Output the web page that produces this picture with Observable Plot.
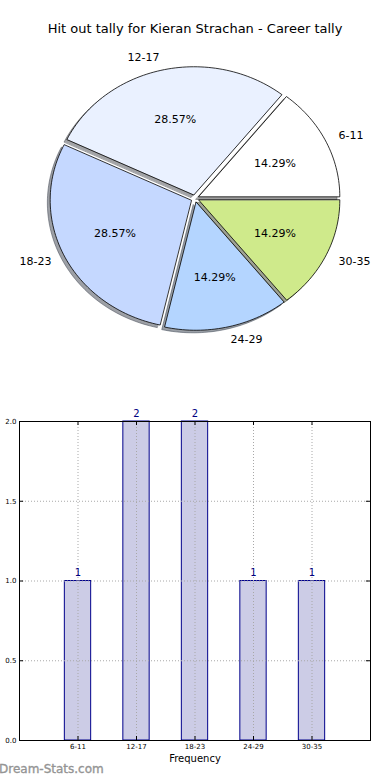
<!DOCTYPE html>
<html><head><meta charset="utf-8">
<script src="https://cdn.jsdelivr.net/npm/d3@7"></script>
<script src="https://cdn.jsdelivr.net/npm/@observablehq/plot@0.6"></script>
<style>
body{margin:0;background:#fff;font-family:"DejaVu Sans",sans-serif;}
#wrap{position:relative;width:390px;height:780px;overflow:hidden;background:#fff;}
#wrap > *{position:absolute;}
#title{left:0;width:390px;top:21px;text-align:center;font-size:13px;color:#000;}
#wm{left:-1px;top:762px;font-size:12px;font-weight:normal;color:#949494;-webkit-text-stroke:0.35px #949494;}
</style></head><body><div id="wrap"><div id="title"></div><div id="wm"></div></div>
<script>
const categories = ["6-11","12-17","18-23","24-29","30-35"];
const counts = [1,2,2,1,1];
const sliceColors = ["#ffffff","#eaf1ff","#c5d8ff","#b4d5ff","#cfea8b"];
const explode = [0.03,0.03,0.03,0.03,0.03];
const yTicks = [0,0.5,1,1.5,2];
const titleText = "Hit out tally for Kieran Strachan - Career tally";
const xLabel = "Frequency";
const watermark = "Dream-Stats.com";

const wrap = document.getElementById("wrap");
document.getElementById("title").textContent = titleText;
document.getElementById("wm").textContent = watermark;

// ---- pie geometry (matplotlib style: start at east, counterclockwise)
const total = d3.sum(counts);
const cum = [0, ...d3.cumsum(counts)];
const slices = categories.map((c, i) => {
  const t1 = 2 * Math.PI * cum[i] / total, t2 = 2 * Math.PI * cum[i + 1] / total;
  const mid = (t1 + t2) / 2;
  const ex = explode[i] * Math.cos(mid), ey = explode[i] * Math.sin(mid);
  return {c, i, t1, t2, mid, ex, ey, frac: counts[i] / total, color: sliceColors[i]};
});
const pts = [], shadowPts = [];
for (const s of slices) {
  const n = Math.ceil((s.t2 - s.t1) / (Math.PI / 120));
  const ring = [[s.ex, s.ey]];
  for (let k = 0; k <= n; k++) {
    const t = s.t1 + (s.t2 - s.t1) * k / n;
    ring.push([s.ex + Math.cos(t), s.ey + Math.sin(t)]);
  }
  const rgb = d3.rgb(s.color);
  const sh = d3.rgb(rgb.r * 0.3, rgb.g * 0.3, rgb.b * 0.3).formatHex();
  for (const [u, v] of ring) {
    pts.push({key: s.c, u, v, color: s.color});
    shadowPts.push({key: s.c, u: u - 0.02, v: v - 0.02, color: sh});
  }
}
const labels = slices.map(s => ({
  text: s.c,
  u: s.ex + 1.1 * Math.cos(s.mid), v: s.ey + 1.1 * Math.sin(s.mid)
}));
const pcts = slices.map(s => ({
  text: d3.format(".2%")(s.frac),
  u: s.ex + 0.6 * Math.cos(s.mid), v: s.ey + 0.6 * Math.sin(s.mid)
}));

const cx = 194.5, cy = 198, rx = 141, ry = 128;
const pie = Plot.plot({
  width: 390, height: 380, margin: 0,
  style: {fontFamily: "DejaVu Sans, sans-serif", background: "transparent", overflow: "visible"},
  x: {domain: [-1, 1], range: [cx - rx, cx + rx], axis: null},
  y: {domain: [-1, 1], range: [cy + ry, cy - ry], axis: null},
  marks: [
    Plot.line(shadowPts, {x: "u", y: "v", z: "key", fill: "color", stroke: "color", fillOpacity: 0.5, strokeOpacity: 0.5, strokeWidth: 1, curve: "linear-closed"}),
    Plot.line(pts, {x: "u", y: "v", z: "key", fill: "color", stroke: "#000", strokeWidth: 0.8, curve: "linear-closed"}),
    Plot.text(labels.filter(d => d.u >= 0), {x: "u", y: "v", text: "text", textAnchor: "start", fontSize: 11, fill: "#000"}),
    Plot.text(labels.filter(d => d.u < 0), {x: "u", y: "v", text: "text", textAnchor: "end", fontSize: 11, fill: "#000"}),
    Plot.text(pcts, {x: "u", y: "v", text: "text", fontSize: 11, fill: "#000"})
  ]
});
pie.style.left = "0px"; pie.style.top = "0px";
wrap.appendChild(pie);

// ---- bar chart
const bars = categories.map((c, i) => ({c, pos: i + 1, n: counts[i]}));
const xTickPos = bars.map(d => d.pos);
const half = 0.225;
const bar = Plot.plot({
  width: 390, height: 380,
  marginLeft: 19, marginRight: 20, marginTop: 21, marginBottom: 40,
  style: {fontFamily: "DejaVu Sans, sans-serif", background: "transparent", overflow: "visible"},
  x: {domain: [0, 6], axis: null},
  y: {domain: [0, 2], axis: null},
  marks: [
    Plot.rectY(bars, {x1: d => d.pos - half, x2: d => d.pos + half, y: "n", fill: "#ccccE6", stroke: "#00008b", strokeWidth: 1}),
    Plot.ruleX(xTickPos, {stroke: "#a8a8a8", strokeDasharray: "1,2", strokeWidth: 1}),
    Plot.ruleY(yTicks.filter(v => v > 0 && v < 2), {stroke: "#a8a8a8", strokeDasharray: "1,2", strokeWidth: 1}),
    Plot.ruleX(xTickPos, {y1: 0, y2: 0.025, stroke: "#000"}),
    Plot.ruleX(xTickPos, {y1: 2, y2: 1.975, stroke: "#000"}),
    Plot.ruleY(yTicks, {x1: 0, x2: 0.07, stroke: "#000"}),
    Plot.ruleY(yTicks, {x1: 6, x2: 5.93, stroke: "#000"}),
    Plot.frame({stroke: "#000", strokeWidth: 1}),
    Plot.text(bars, {x: "pos", y: "n", text: d => String(d.n), dy: -8, fill: "#000080", fontSize: 10}),
    Plot.axisX({ticks: xTickPos, tickFormat: p => categories[p - 1], tickSize: 0, tickPadding: 4, fontSize: 7, label: null}),
    Plot.axisY({ticks: yTicks, tickFormat: d3.format(".1f"), tickSize: 0, tickPadding: 3, fontSize: 7, label: null}),
    Plot.text([xLabel], {frameAnchor: "bottom", dy: 21, text: d => d, fontSize: 10, fill: "#000"})
  ]
});
bar.style.left = "0px"; bar.style.top = "400px";
wrap.appendChild(bar);
</script>
</body></html>
